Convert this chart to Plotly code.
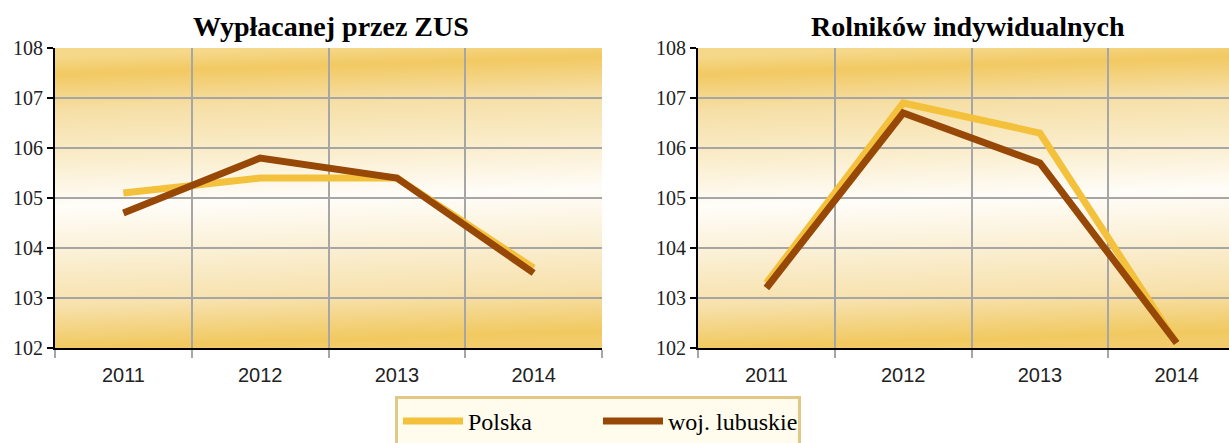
import base64
import plotly.graph_objects as go

years = ["2011", "2012", "2013", "2014"]
x_pos = [1, 2, 3, 4]
zus_polska = [105.1, 105.4, 105.4, 103.6]
zus_lubuskie = [104.7, 105.8, 105.4, 103.5]
rol_polska = [103.3, 106.9, 106.3, 102.1]
rol_lubuskie = [103.2, 106.7, 105.7, 102.1]
titles = ["Wypłacanej przez ZUS", "Rolników indywidualnych"]
series_names = ["Polska", "woj. lubuskie"]
colors = ["#F4C13C", "#984806"]

svg = """<svg xmlns='http://www.w3.org/2000/svg' width='200' height='200' viewBox='0 0 200 200' preserveAspectRatio='none'>
<defs><linearGradient id='g' x1='0.47' y1='0' x2='0.53' y2='1'>
<stop offset='0' stop-color='#F5D88A'/>
<stop offset='0.06' stop-color='#F2C962'/>
<stop offset='0.18' stop-color='#F6DFA6'/>
<stop offset='0.34' stop-color='#FAEDCB'/>
<stop offset='0.5' stop-color='#FFFDF9'/>
<stop offset='0.66' stop-color='#FBF0D5'/>
<stop offset='0.83' stop-color='#F7E1AC'/>
<stop offset='0.97' stop-color='#F1C960'/>
<stop offset='1' stop-color='#F2CC6A'/>
</linearGradient></defs>
<rect x='0' y='0' width='200' height='200' fill='url(#g)'/></svg>"""
bg_uri = "data:image/svg+xml;base64," + base64.b64encode(svg.encode()).decode()

W, H = 1229, 443
fig = go.Figure()

panels = [(zus_polska, zus_lubuskie, "x", "y"), (rol_polska, rol_lubuskie, "x2", "y2")]
for i, (p, l, xa, ya) in enumerate(panels):
    for vals, name, col in zip([p, l], series_names, colors):
        fig.add_trace(go.Scatter(
            x=x_pos, y=vals, mode="lines", name=name,
            line=dict(color=col, width=7),
            xaxis=xa, yaxis=ya, showlegend=(i == 0),
        ))

ydom = [1 - 348 / H, 1 - 48 / H]
xdoms = [[55 / W, 602 / W], [698 / W, 1.0]]
xranges = [[0.5, 4.5], [0.5, 0.5 + 4 * (W - 698) / (602 - 55)]]

serif = "Liberation Serif"
sans = "Liberation Sans"

for i in range(2):
    sfx = "" if i == 0 else str(i + 1)
    fig.layout["xaxis" + sfx] = dict(
        domain=xdoms[i], range=xranges[i], anchor="y" + sfx,
        tickmode="array", tickvals=x_pos, ticktext=years,
        showgrid=False, ticks="", zeroline=False, automargin=False,
        showline=True, linecolor="black", linewidth=2,
        tickfont=dict(family=sans, size=20, color="#222"),
        ticklabelstandoff=8,
        minor=dict(tick0=0.5, dtick=1, showgrid=True, gridcolor="#A6A6A6",
                   gridwidth=2, ticks="outside", ticklen=8, tickcolor="#A6A6A6",
                   tickwidth=2),
        fixedrange=True,
    )
    fig.layout["yaxis" + sfx] = dict(
        domain=ydom, range=[102, 108], anchor="x" + sfx,
        tickmode="linear", tick0=102, dtick=1,
        showgrid=True, gridcolor="#A6A6A6", gridwidth=2,
        showline=True, linecolor="black", linewidth=2,
        ticks="outside", ticklen=6, tickcolor="black", tickwidth=2,
        zeroline=False, automargin=False,
        tickfont=dict(family=serif, size=20, color="#222"),
        fixedrange=True,
    )
    fig.add_layout_image(dict(
        source=bg_uri, xref=("x" + sfx) + " domain", yref=("y" + sfx) + " domain",
        x=0, y=1, sizex=1, sizey=1, xanchor="left", yanchor="top",
        sizing="stretch", layer="below",
    ))

title_centers = [331, 968]
for t, cx in zip(titles, title_centers):
    fig.add_annotation(
        text="<b>" + t + "</b>", xref="paper", yref="paper",
        x=cx / W, y=1 - 26 / H, xanchor="center", yanchor="middle",
        showarrow=False, font=dict(family=serif, size=28, color="black"),
    )

fig.update_layout(
    width=W, height=H,
    margin=dict(l=0, r=0, t=0, b=0, autoexpand=False),
    paper_bgcolor="white", plot_bgcolor="rgba(0,0,0,0)",
    showlegend=True,
    legend=dict(
        orientation="h", x=395 / W, y=1 - 396 / H, xanchor="left", yanchor="top",
        bgcolor="#FFFCEE", bordercolor="#E2C886", borderwidth=3,
        font=dict(family=serif, size=24, color="black"),
        itemwidth=60, entrywidth=125, tracegroupgap=0,
    ),
)

fig.write_html(
    "out.html",
    config={"displayModeBar": False},
    post_script="document.body.style.margin='0';document.body.style.padding='0';",
)
